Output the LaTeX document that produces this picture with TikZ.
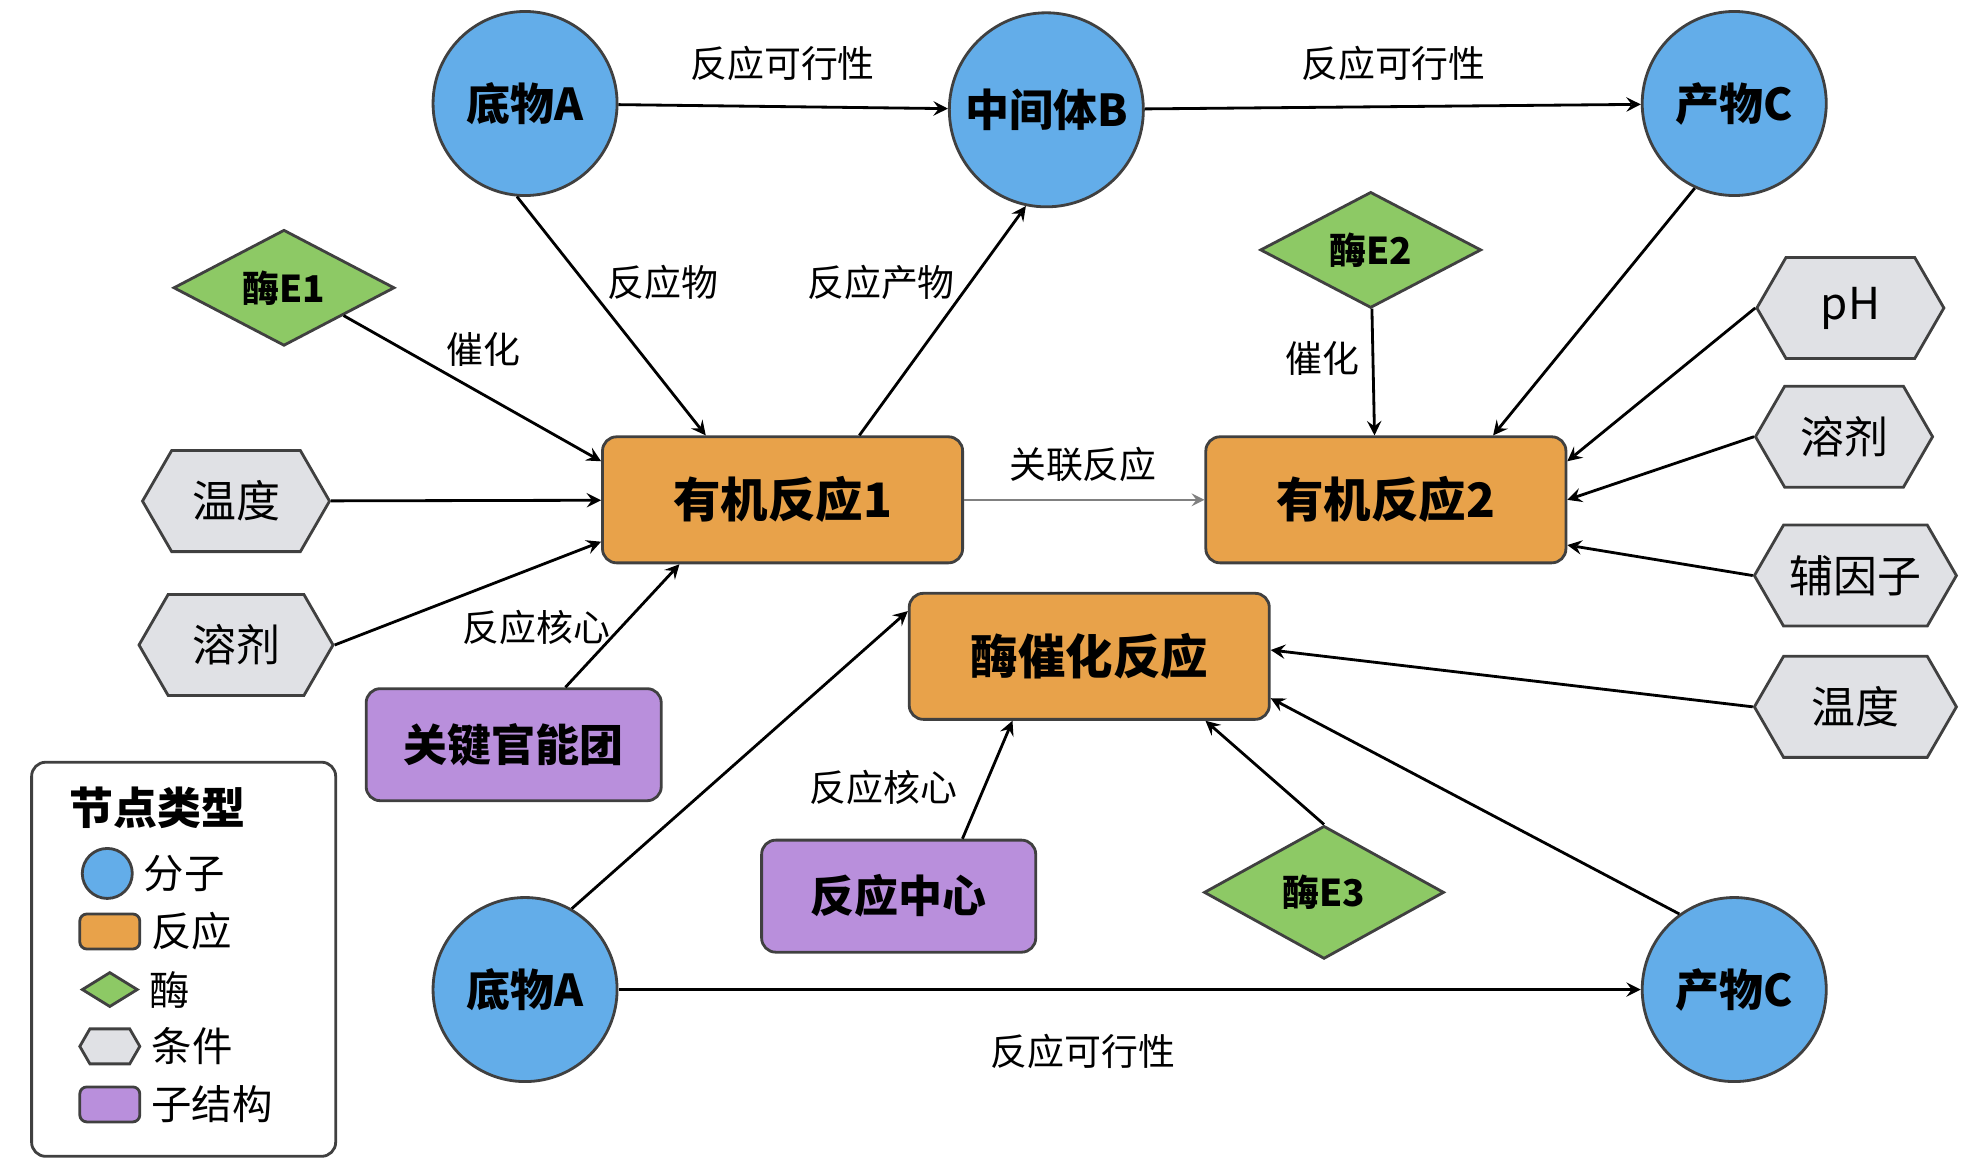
\documentclass[tikz,border=0pt]{standalone}
\usepackage{fontspec}
\setmainfont{Noto Sans CJK SC}
\usetikzlibrary{shapes.geometric,shapes.symbols,positioning}
\definecolor{molblue}{HTML}{63ADE9}
\definecolor{rxorange}{HTML}{E8A24A}
\definecolor{enzgreen}{HTML}{8DC965}
\definecolor{condgray}{HTML}{E0E1E5}
\definecolor{subpurple}{HTML}{B98FDC}
\definecolor{edgegray}{HTML}{404040}

\begin{document}
\begin{tikzpicture}[x=0.01262cm, y=-0.01262cm, >=stealth,
  molecule/.style={circle, draw=edgegray, thick, fill=molblue, minimum size=1.84cm, inner sep=0pt, font=\fontsize{12.5}{15}\selectfont\bfseries},
  reaction/.style={rectangle, draw=edgegray, thick, fill=rxorange, rounded corners=4pt, minimum width=3.6cm, minimum height=1.26cm, font=\fontsize{13.5}{16}\selectfont\bfseries},
  enzyme/.style={diamond, draw=edgegray, thick, fill=enzgreen, aspect=1.9, inner sep=0pt, minimum width=2.21cm, minimum height=1.16cm, font=\fontsize{10.5}{13}\selectfont\bfseries},
  condition/.style={signal, signal to=east and west, signal pointer angle=120, draw=edgegray, thick, fill=condgray, minimum width=1.87cm, minimum height=1.01cm, inner sep=0pt, font=\fontsize{12.5}{15}\selectfont},
  substruct/.style={rectangle, draw=edgegray, thick, fill=subpurple, rounded corners=4pt, minimum width=2.95cm, minimum height=1.12cm, font=\fontsize{12.5}{15}\selectfont\bfseries},
  link/.style={->, thick, black},
  lbl/.style={font=\fontsize{10.5}{13}\selectfont, inner sep=1pt}
]
  \useasboundingbox (0,0) rectangle (1560,930);

  % -- molecules --
  \node[molecule] (A1) at (416,82) {底物A};
  \node[molecule, minimum size=1.94cm] (B) at (829,87) {中间体B};
  \node[molecule] (C1) at (1374,82) {产物C};
  \node[molecule] (A2) at (416,784) {底物A};
  \node[molecule] (C2) at (1374,784) {产物C};

  % -- reactions --
  \node[reaction] (R1) at (620,396) {有机反应1};
  \node[reaction] (R2) at (1098,396) {有机反应2};
  \node[reaction] (R3) at (863,520) {酶催化反应};

  % -- enzymes --
  \node[enzyme] (E1) at (225,228) {酶E1};
  \node[enzyme] (E2) at (1086,198) {酶E2};
  \node[enzyme, minimum width=2.4cm, minimum height=1.33cm] (E3) at (1049,707) {酶E3};

  % -- conditions --
  \node[condition] (T1) at (187,397) {温度};
  \node[condition, minimum width=1.94cm] (S1) at (187,511) {溶剂};
  \node[condition] (PH) at (1466,244) {pH};
  \node[condition, minimum width=1.77cm] (S2) at (1461,346) {溶剂};
  \node[condition, minimum width=2.02cm] (CF) at (1470,456) {辅因子};
  \node[condition, minimum width=2.02cm] (T2) at (1470,560) {温度};

  % -- substructures --
  \node[substruct] (G1) at (407,590) {关键官能团};
  \node[substruct, minimum width=2.74cm] (G2) at (712,710) {反应中心};

  % -- top chain --
  \draw[link] (A1) -- (B);
  \node[lbl] (lab1) at (620,50) {反应可行性};
  \draw[link] (B) -- (C1);
  \node[lbl] (lab2) at (1104,50) {反应可行性};

  % -- organic reaction 1 --
  \draw[link] (A1.265) -- (R1.140);
  \node[lbl] (lab3) at (525,224) {反应物};
  \draw[link] (R1.40) -- (B.258);
  \node[lbl] (lab4) at (698,224) {反应产物};
  \draw[link] (E1.-25) -- (R1.168);
  \node[lbl] (lab5) at (383,277) {催化};
  \draw[link] (T1) -- (R1);
  \draw[link] (S1.east) -- (R1.193);
  \draw[link] (G1.48) -- (R1.-148);
  \node[lbl] (lab6) at (425,497) {反应核心};
  \draw[->, semithick, gray] (R1) -- (R2);
  \node[lbl] (lab7) at (858,368) {关联反应};

  % -- organic reaction 2 --
  \draw[link] (E2) -- (R2.100);
  \node[lbl] (lab8) at (1048,284) {催化};
  \draw[link] (C1.245) -- (R2.31);
  \draw[link] (PH.west) -- (R2.12);
  \draw[link] (S2.west) -- (R2.east);
  \draw[link] (CF.west) -- (R2.-14);

  % -- enzymatic reaction --
  \draw[link] (T2.west) -- (R3.2);
  \draw[link] (C2.126) -- (R3.-13);
  \draw[link] (E3.north) -- (R3.-29);
  \draw[link] (G2.42) -- (R3.-140);
  \node[lbl] (lab9) at (700,624) {反应核心};
  \draw[link] (A2.60) -- (R3.166);
  \draw[link] (A2) -- (C2);
  \node[lbl] (lab10) at (858,833) {反应可行性};

  % -- legend --
  \node[draw=edgegray, thick, rounded corners=4pt, minimum width=3.04cm, minimum height=3.94cm] (legend) at (145.5,760) {};
  \node[font=\fontsize{12.5}{15}\selectfont\bfseries] (legtitle) at (125,640) {节点类型};
  \node[circle, draw=edgegray, thick, fill=molblue, minimum size=0.5cm, inner sep=0pt] (legmol) at (85,692) {};
  \node[rectangle, draw=edgegray, thick, fill=rxorange, rounded corners=2pt, minimum width=0.6cm, minimum height=0.35cm] (legrx) at (87,738) {};
  \node[diamond, draw=edgegray, thick, fill=enzgreen, aspect=1.6, inner sep=0pt, minimum width=0.56cm, minimum height=0.35cm] (legenz) at (87,784) {};
  \node[signal, signal to=east and west, signal pointer angle=120, draw=edgegray, thick, fill=condgray, minimum width=0.6cm, minimum height=0.35cm, inner sep=0pt] (legcond) at (87,829) {};
  \node[rectangle, draw=edgegray, thick, fill=subpurple, rounded corners=2pt, minimum width=0.6cm, minimum height=0.35cm] (legsub) at (87,875) {};
  \foreach \n/\t in {legmol/分子, legrx/反应, legenz/酶, legcond/条件, legsub/子结构}
    \node[lbl, font=\fontsize{11.5}{14}\selectfont, anchor=west] at ([xshift=0.06cm]\n.east |- \n) {\t};
\end{tikzpicture}
\end{document}
